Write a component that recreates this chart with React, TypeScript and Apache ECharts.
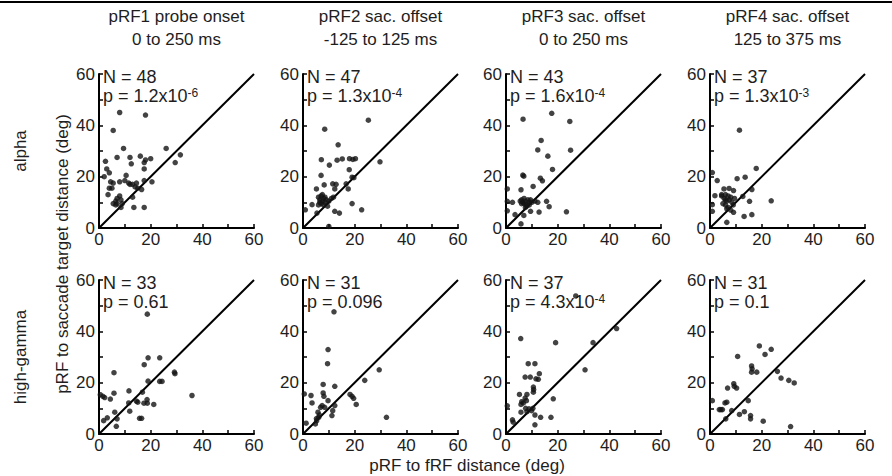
import React, { useEffect, useRef } from "react";
import * as echarts from "echarts";

const FONT = '"Liberation Sans", Arial, Helvetica, sans-serif';

const colTitles = ["pRF1 probe onset", "pRF2 sac. offset", "pRF3 sac. offset", "pRF4 sac. offset"];
const colWindows = ["0 to 250 ms", "-125 to 125 ms", "0 to 250 ms", "125 to 375 ms"];
const rowNames = ["alpha", "high-gamma"];
const xTitle = "pRF to fRF distance (deg)";
const yTitle = "pRF to saccade target distance (deg)";

const alphaN = [48, 47, 43, 37];
const alphaP = ["1.2x10^-6", "1.3x10^-4", "1.6x10^-4", "1.3x10^-3"];
const gammaN = [33, 31, 37, 31];
const gammaP = ["0.61", "0.096", "4.3x10^-4", "0.1"];

const axisMin = 0;
const axisMax = 60;
const tickStep = 10;
const identityLine = [[0, 0], [60, 60]];

const alphaPRF1 = [
  [8, 45], [18, 44], [5.5, 38], [9.5, 31], [26, 31], [31.5, 28.5], [29.5, 25.5],
  [2.5, 26], [7, 27.5], [12, 27.5], [16, 28], [18, 26.5], [20, 27], [17.5, 25.5], [12.5, 25],
  [3, 23], [17.5, 23], [4, 21.5], [10.5, 20.5], [2, 20], [4.5, 18], [10, 18.5], [11.5, 17.5], [13, 17], [14.5, 17.5], [12, 17], [17.5, 18.5], [20.5, 18], [5.5, 17.5], [8, 18],
  [4, 15.5], [5, 15.5], [15, 15.5], [16.5, 15], [3.5, 13], [8, 12.5], [7, 11.5], [8.5, 11], [6.5, 10.5],
  [5.5, 9.5], [6.5, 9], [7, 9.5], [8.5, 8], [13, 12], [13.5, 8], [17.5, 8], [9, 9.5], [14, 16],
];
const alphaPRF2 = [
  [25.3, 42], [8.4, 38.5], [13.6, 32.4], [7.1, 26.6], [13.2, 26.4], [15.2, 26.9], [18, 27], [19.3, 26.7], [20.3, 27], [29.8, 25.8],
  [10.2, 24.5], [17.9, 22.7], [7, 20.5], [19, 19.8], [19.7, 19.6], [8.2, 16.8], [11.5, 17.2], [12.8, 17], [16.7, 17.2], [17.5, 15.2],
  [12.3, 15.2], [5.2, 15.2], [0.9, 7.1], [3.5, 9.1], [11.8, 12], [19, 9.5], [22.7, 7.1], [12.3, 6.5], [14.1, 5.8], [10, 0.6],
  [5.4, 5.8], [6, 12], [6.5, 11], [7, 12.5], [7.5, 10.5], [8, 11.5], [8.5, 10], [7, 9.5], [6.5, 10], [9, 11], [7.5, 13], [8, 9], [6, 9], [10, 10.5], [8.5, 12], [9.5, 8.5], [11, 11.5],
];
const alphaPRF3 = [
  [17.7, 44.7], [6.6, 42.4], [24.7, 41.5], [13.6, 34.1], [12.3, 30.4], [25, 30.3], [16.2, 28], [18, 22.8], [6.5, 20.6], [6.9, 20.2],
  [13.3, 19.4], [14.1, 18.4], [10.5, 16.2], [0.5, 15.2], [5.8, 14.9], [0.5, 10.4], [2.5, 10], [15.7, 10.4], [12.3, 10], [11.2, 10.5],
  [0.5, 6.7], [3.5, 5.2], [6.9, 4.9], [5.8, 1.6], [9.5, 6.5], [12.8, 6.2], [16.7, 8.3], [23.4, 6.3],
  [6, 11], [6.5, 10], [7, 9.5], [7.5, 10.5], [8, 9], [8.5, 11], [9, 10], [9.5, 11], [7, 11.5], [6, 9.5], [10, 10], [8, 8.5], [7.5, 8], [5.5, 10.5], [9, 9],
];
const alphaPRF4 = [
  [11.4, 38.1], [17.9, 23.2], [0.9, 21.6], [2.8, 18.5], [10.5, 19.2], [13.6, 19.8], [5.4, 15.2], [7.4, 15.4], [9.1, 14.6], [16.2, 15],
  [1.9, 12.6], [0.9, 9.1], [0.9, 6.5], [12.7, 12.3], [15.3, 10.4], [23.7, 10.6], [9.1, 6.1], [13.2, 4.5], [16.2, 5.2], [6.5, 2.2],
  [4.5, 12.5], [5.5, 11.5], [6, 13], [6.5, 10.5], [6, 9], [7, 8], [7.5, 11], [8, 12], [8.5, 10], [9.5, 11.5], [6.5, 7.5], [8, 7], [5, 9.5], [4.5, 13], [7, 12.5], [9, 9], [6, 11],
];
const gammaPRF1 = [
  [18.7, 46.7], [19, 29.7], [23.5, 29.7], [17.5, 27], [5.8, 23.9], [29.2, 24.1], [29.4, 23.5], [19, 20.6], [23.5, 20.5], [24.4, 20.5],
  [11.6, 16.8], [5.8, 15.9], [36, 15], [0.5, 15.3], [1.5, 14.7], [2.2, 14.2], [4.4, 13.6], [14.5, 12.8], [15, 12.4], [11.5, 12.1],
  [17.4, 12], [18.7, 12], [21.2, 11.5], [18.6, 13.4], [11.9, 8.9], [6.1, 8.5], [3.2, 6.3], [1.8, 5.2], [7, 5.9], [15.7, 6.1],
  [16.5, 6.1], [6.7, 3], [16.8, 16.3],
];
const gammaPRF2 = [
  [12, 47.6], [9.7, 32.9], [9.5, 27.4], [29.5, 25], [7.8, 19.3], [12.3, 18.6], [23.9, 20.9], [0.5, 15.6], [3.1, 15], [7.8, 16],
  [8.1, 14.7], [3.5, 12.1], [9.7, 13], [18.2, 15.4], [19, 14.7], [19.6, 13.9], [20.6, 11.5], [7.4, 11.1], [8.4, 10.4], [6.8, 10.4],
  [12.3, 11.1], [11.5, 9.1], [11.2, 7.2], [5.8, 8.5], [6.3, 7.4], [6.1, 6.5], [5.3, 5.2], [4.8, 3.9], [1.2, 4.2], [32.3, 6.5],
  [5.2, 6],
];
const gammaPRF3 = [
  [27, 53.8], [5.7, 37.2], [19.2, 35.6], [33.7, 35.6], [42.8, 41.1], [30.6, 25], [8.6, 27.4], [11.2, 27.4], [12.9, 23.5], [7.4, 22.2],
  [9.4, 22.2], [11.6, 21.5], [12.5, 21.3], [10.6, 18.3], [10.7, 17.3], [10.6, 16.3], [8.1, 15.4], [5.2, 15.4], [6.1, 12.6], [6.7, 12.1],
  [5.8, 11.5], [7.4, 14], [7.9, 13], [18.3, 13.7], [5.8, 8.5], [8.1, 8.7], [8.9, 9.8], [9.9, 9.1], [10.4, 10], [2.5, 5.5],
  [2.8, 4.6], [11.2, 7.4], [13.4, 6.5], [17.4, 6.5], [11.2, 3.6], [7.6, 10], [0.5, 11],
];
const gammaPRF4 = [
  [19.1, 34.3], [23.7, 33], [21.3, 31], [10.7, 30.2], [16.1, 26.5], [16.3, 25.4], [16.1, 24.1], [18.1, 24.1], [26.1, 24.4], [27.5, 21.8],
  [30.5, 20.9], [32.6, 19.9], [6.8, 17.9], [9.2, 19.6], [9.4, 18.6], [10.3, 17.9], [0.9, 13], [3.6, 9.5], [4.8, 9.5], [5.8, 12.1],
  [6.5, 12.4], [8.4, 9.1], [14.8, 13], [11.4, 7.6], [13.3, 8.7], [15.7, 7.2], [15.7, 5.9], [20.6, 5], [31.2, 2.9], [6.1, 5.9],
  [4.2, 9.5],
];

const panelData = [
  [alphaPRF1, alphaPRF2, alphaPRF3, alphaPRF4],
  [gammaPRF1, gammaPRF2, gammaPRF3, gammaPRF4],
];
const panelN = [alphaN, gammaN];
const panelP = [alphaP, gammaP];

// layout (pixels)
const colLeft = [99, 303, 506, 710];
const rowTop = [74, 280];
const plotW = 155;
const plotH = 154;

const TEXT = "#1e1e1e";
const FS = 17;
const FS_STAT = 18;

function pRich(p: string) {
  const parts = p.split("^");
  return parts.length > 1 ? `p = ${parts[0]}{s|${parts[1]}}` : `p = ${p}`;
}

export default function App() {
  const ref = useRef<HTMLDivElement>(null);
  useEffect(() => {
    document.body.style.margin = "0";
    const chart = echarts.init(ref.current!, undefined, { renderer: "svg" });
    const grids: any[] = [];
    const xAxes: any[] = [];
    const yAxes: any[] = [];
    const series: any[] = [];
    const graphics: any[] = [];

    const axisCommon = (i: number, margin: number) => ({
      gridIndex: i,
      type: "value",
      min: axisMin,
      max: axisMax,
      interval: tickStep,
      axisLine: { show: true, onZero: false, lineStyle: { color: "#000", width: 2 } },
      axisTick: { show: true, inside: true, length: 4, lineStyle: { color: "#000", width: 1.5 } },
      axisLabel: {
        show: true,
        margin,
        fontSize: FS,
        fontFamily: FONT,
        color: TEXT,
        hideOverlap: false,
        formatter: (v: number) => (v % 20 === 0 ? String(v) : ""),
      },
      splitLine: { show: false },
    });

    let idx = 0;
    for (let r = 0; r < 2; r++) {
      for (let c = 0; c < 4; c++) {
        const left = colLeft[c];
        const top = rowTop[r];
        grids.push({ left, top, width: plotW, height: plotH, containLabel: false });
        xAxes.push(axisCommon(idx, 3));
        yAxes.push(axisCommon(idx, 4));
        series.push({
          type: "line",
          xAxisIndex: idx,
          yAxisIndex: idx,
          data: identityLine,
          symbol: "none",
          lineStyle: { color: "#000", width: 2 },
          silent: true,
          z: 1,
        });
        series.push({
          type: "scatter",
          xAxisIndex: idx,
          yAxisIndex: idx,
          data: panelData[r][c],
          symbolSize: 5.5,
          itemStyle: { color: "#141414" },
          z: 3,
        });
        graphics.push({
          type: "text",
          x: left + 4,
          y: top - 6,
          style: { text: `N = ${panelN[r][c]}`, fontSize: FS_STAT, lineHeight: 18, fontFamily: FONT, fill: TEXT },
        });
        graphics.push({
          type: "text",
          x: left + 4,
          y: top + 13,
          style: {
            text: pRich(panelP[r][c]),
            fontSize: FS_STAT,
            lineHeight: 18,
            fontFamily: FONT,
            fill: TEXT,
            rich: { s: { fontSize: 12, lineHeight: 18, fontFamily: FONT, fill: TEXT, verticalAlign: "top" } },
          },
        });
        idx++;
      }
    }

    for (let c = 0; c < 4; c++) {
      const cx = colLeft[c] + plotW / 2;
      graphics.push({
        type: "text",
        x: cx,
        y: 8,
        style: { text: colTitles[c], fontSize: FS, fontFamily: FONT, fill: TEXT, align: "center" },
      });
      graphics.push({
        type: "text",
        x: cx,
        y: 31,
        style: { text: colWindows[c], fontSize: FS, fontFamily: FONT, fill: TEXT, align: "center" },
      });
    }
    for (let r = 0; r < 2; r++) {
      graphics.push({
        type: "text",
        x: 20,
        y: rowTop[r] + plotH / 2,
        rotation: Math.PI / 2,
        style: { text: rowNames[r], fontSize: FS, fontFamily: FONT, fill: TEXT, align: "center", verticalAlign: "middle" },
      });
    }
    graphics.push({
      type: "text",
      x: 62,
      y: (rowTop[0] + rowTop[1] + plotH) / 2,
      rotation: Math.PI / 2,
      style: { text: yTitle, fontSize: FS, fontFamily: FONT, fill: TEXT, align: "center", verticalAlign: "middle" },
    });
    graphics.push({
      type: "text",
      x: 467,
      y: 465,
      style: { text: xTitle, fontSize: FS, fontFamily: FONT, fill: TEXT, align: "center", verticalAlign: "middle" },
    });
    graphics.push({
      type: "rect",
      shape: { x: 0, y: 1, width: 892, height: 2 },
      style: { fill: "#000" },
    });

    chart.setOption({
      animation: false,
      backgroundColor: "#fff",
      grid: grids,
      xAxis: xAxes,
      yAxis: yAxes,
      series,
      graphic: graphics,
    });
    return () => chart.dispose();
  }, []);
  return (
    <div
      ref={ref}
      style={{ position: "absolute", left: 0, top: 0, width: 892, height: 476 }}
    />
  );
}
